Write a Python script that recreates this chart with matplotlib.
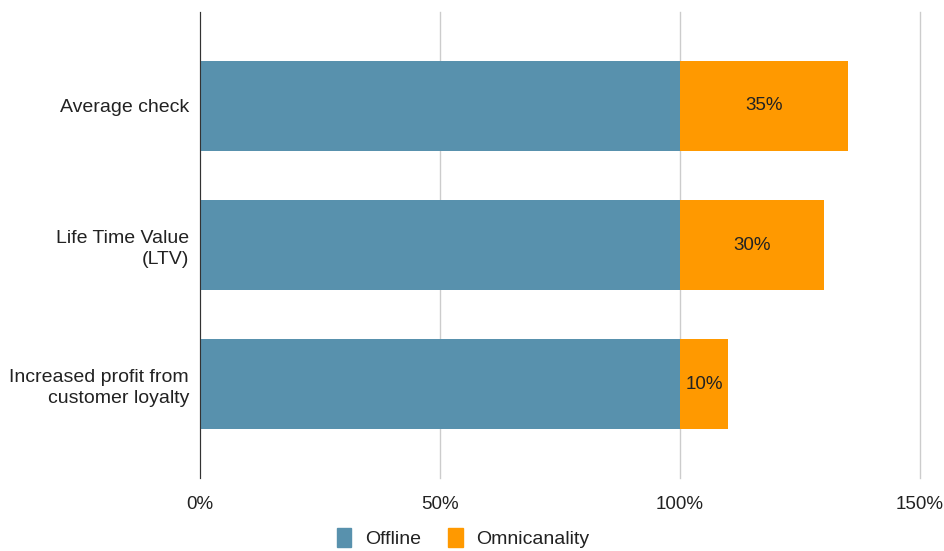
import matplotlib.pyplot as plt
from matplotlib.patches import Patch

plt.rcParams['font.family'] = ['Liberation Sans', 'DejaVu Sans']

categories = ["Average check", "Life Time Value\n(LTV)", "Increased profit from\ncustomer loyalty"]
offline = [100, 100, 100]
omni = [35, 30, 10]
xticks = [0, 50, 100, 150]

c_off = '#5891ad'
c_omni = '#ff9900'

fig = plt.figure(figsize=(9.45, 5.51), dpi=100)
ax = fig.add_axes([200/945, 1-478/551, 720/945, 466/551])

y = range(len(categories))
ax.barh(y, offline, height=0.647, color=c_off, zorder=2)
ax.barh(y, omni, left=offline, height=0.647, color=c_omni, zorder=2)

for i, v in enumerate(omni):
    ax.text(offline[i] + v/2, i, f"{v}%", ha='center', va='center', fontsize=13.5, color='#222222', zorder=3)

ax.set_xlim(0, 150)
ax.set_ylim(len(categories) - 1 + 0.676, -0.676)
ax.set_xticks(xticks)
ax.set_xticklabels([f"{t}%" for t in xticks], fontsize=13.5, color='#222222')
ax.set_yticks(list(y))
ax.set_yticklabels(categories, fontsize=14, color='#222222', ha='right', linespacing=1.3)
ax.tick_params(axis='both', length=0)
ax.tick_params(axis='x', pad=13)
ax.tick_params(axis='y', pad=8)
ax.grid(axis='x', color='#cccccc', linewidth=1, zorder=0)
for gl in ax.get_xgridlines():
    gl.set_clip_on(False)
for s in ['top', 'right', 'bottom']:
    ax.spines[s].set_visible(False)
ax.spines['left'].set_color('#333333')
ax.spines['left'].set_zorder(4)

handles = [Patch(color=c_off, label='Offline'), Patch(color=c_omni, label='Omnicanality')]
fig.legend(handles=handles, loc='center', bbox_to_anchor=(463/945, 13/551), ncol=2, frameon=False,
           fontsize=14, handlelength=0.75, handleheight=1.1, columnspacing=1.4, handletextpad=0.7,
           labelcolor='#222222', borderpad=0.2)

fig.savefig('out.png', dpi=100)
